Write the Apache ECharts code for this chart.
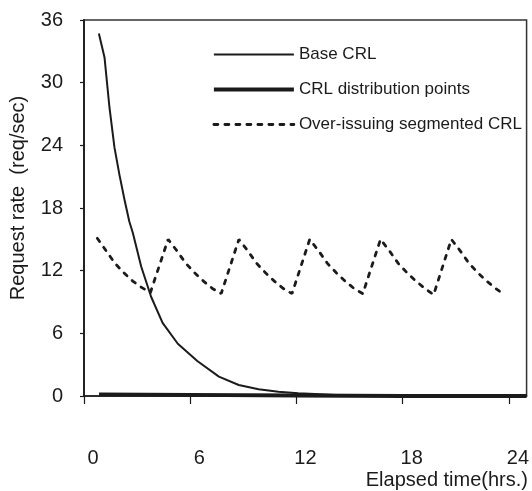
<!DOCTYPE html>
<html>
<head>
<meta charset="utf-8">
<script src="https://cdn.jsdelivr.net/npm/echarts@6/dist/echarts.min.js"></script>
<style>
  html, body { margin: 0; padding: 0; background: #ffffff; }
  #chart { width: 532px; height: 491px; }
</style>
</head>
<body>
<div id="chart"></div>
<script>
// Request rate over one day for three CRL distribution schemes
const seriesNames = ['Base CRL', 'CRL distribution points', 'Over-issuing segmented CRL'];

// Base CRL: burst right after issuance, then decays towards zero
const baseHours = [0.84, 1.16, 1.44, 1.72, 2.0, 2.3, 2.56, 2.76, 3.23, 3.79, 4.44, 5.3, 6.4, 7.62, 8.74, 9.86, 10.98, 12.1, 13.04, 14.2, 15.4];
const baseRate  = [34.7, 32.4, 27.6, 23.8, 21.2, 18.7, 16.7, 15.6, 12.4, 9.5, 7.0, 5.0, 3.35, 1.85, 1.05, 0.64, 0.41, 0.26, 0.19, 0.1, 0];

// CRL distribution points: stays near zero all day
const dpHours = [0.85, 6, 12, 18, 25];
const dpRate  = [0.15, 0.1, 0.05, 0, 0];

// Over-issuing segmented CRL: sawtooth with a new segment every 4 hours
const segHours = [
  0.75, 1.25, 1.75, 2.25, 2.75, 3.25, 3.75,
  4.75, 5.25, 5.75, 6.25, 6.75, 7.25, 7.75,
  8.75, 9.25, 9.75, 10.25, 10.75, 11.25, 11.75,
  12.75, 13.25, 13.75, 14.25, 14.75, 15.25, 15.75,
  16.75, 17.25, 17.75, 18.25, 18.75, 19.25, 19.75,
  20.75, 21.25, 21.75, 22.25, 22.75, 23.25, 23.75
];
const segRate = [
  15.1, 13.9, 12.7, 11.8, 11.0, 10.4, 9.9,
  15.0, 13.9, 12.7, 11.8, 11.0, 10.3, 9.8,
  15.0, 13.9, 12.7, 11.8, 11.0, 10.3, 9.8,
  15.0, 13.9, 12.7, 11.8, 11.0, 10.3, 9.8,
  15.0, 13.9, 12.7, 11.8, 11.0, 10.3, 9.7,
  15.0, 13.9, 12.7, 11.8, 11.0, 10.3, 9.7
];

const xTicks = [0, 6, 12, 18, 24];
const yTicks = [0, 6, 12, 18, 24, 30, 36];

const zip = (xs, ys) => xs.map((x, i) => [x, ys[i]]);
const ink = '#1b1b1b';
const font = '"Liberation Sans", Arial, Helvetica, sans-serif';

const lineWidths = [2, 3.8, 2.8];
const dotted = [4, 7];

const chart = echarts.init(document.getElementById('chart'), null, { renderer: 'canvas' });

chart.setOption({
  animation: false,
  backgroundColor: '#ffffff',
  textStyle: { fontFamily: font, color: ink },
  grid: {
    left: 84, top: 20, right: 0, bottom: 95,
    show: true, borderColor: '#333333', borderWidth: 1.5, backgroundColor: 'transparent'
  },
  legend: {
    orient: 'vertical',
    left: 212, top: 45,
    padding: 0,
    itemWidth: 80, itemHeight: 16, itemGap: 16,
    itemStyle: { opacity: 0, borderWidth: 0 },
    textStyle: { fontFamily: font, fontSize: 17, color: ink, lineHeight: 16, padding: [3, 0, 0, 0] },
    data: [
      { name: seriesNames[0], lineStyle: { width: lineWidths[0], color: ink } },
      { name: seriesNames[1], lineStyle: { width: lineWidths[1], color: ink } },
      { name: seriesNames[2], lineStyle: { width: lineWidths[2], color: ink, type: dotted } }
    ]
  },
  xAxis: {
    type: 'value',
    min: 0, max: 25, interval: 6,
    splitLine: { show: false },
    axisLine: { lineStyle: { color: ink, width: 1.5 } },
    axisTick: { length: 8, lineStyle: { color: ink, width: 1.2 } },
    axisLabel: {
      margin: 52, fontSize: 20, color: ink, fontFamily: font,
      padding: [0, 0, 0, 18],
      showMaxLabel: false,
      formatter: v => (xTicks.indexOf(v) >= 0 ? String(v) : '')
    }
  },
  yAxis: {
    type: 'value',
    min: 0, max: 36, interval: 6,
    splitLine: { show: false },
    axisLine: { show: true, lineStyle: { color: ink, width: 1.8 } },
    axisTick: { show: true, length: 4, lineStyle: { color: ink, width: 1.2 } },
    axisLabel: {
      margin: 21, fontSize: 20, color: ink, fontFamily: font,
      formatter: v => (yTicks.indexOf(v) >= 0 ? String(v) : '')
    }
  },
  graphic: [
    {
      type: 'text',
      x: 18, y: 198,
      rotation: Math.PI / 2,
      style: {
        text: 'Request rate  (req/sec)',
        fontFamily: font, fontSize: 20, fill: ink,
        textAlign: 'center', textVerticalAlign: 'middle'
      }
    },
    {
      type: 'text',
      x: 528, y: 480,
      style: {
        text: 'Elapsed time(hrs.)',
        fontFamily: font, fontSize: 20, fill: ink,
        textAlign: 'right', textVerticalAlign: 'middle'
      }
    }
  ],
  series: [
    {
      name: seriesNames[0],
      type: 'line',
      data: zip(baseHours, baseRate),
      symbol: 'none',
      smooth: false,
      color: ink,
      lineStyle: { color: ink, width: lineWidths[0], join: 'round' },
      z: 3
    },
    {
      name: seriesNames[1],
      type: 'line',
      data: zip(dpHours, dpRate),
      symbol: 'none',
      color: ink,
      lineStyle: { color: ink, width: lineWidths[1] },
      z: 2
    },
    {
      name: seriesNames[2],
      type: 'line',
      data: zip(segHours, segRate),
      symbol: 'none',
      color: ink,
      lineStyle: { color: ink, width: lineWidths[2], type: dotted, cap: 'round' },
      z: 4
    }
  ]
});
</script>
</body>
</html>
